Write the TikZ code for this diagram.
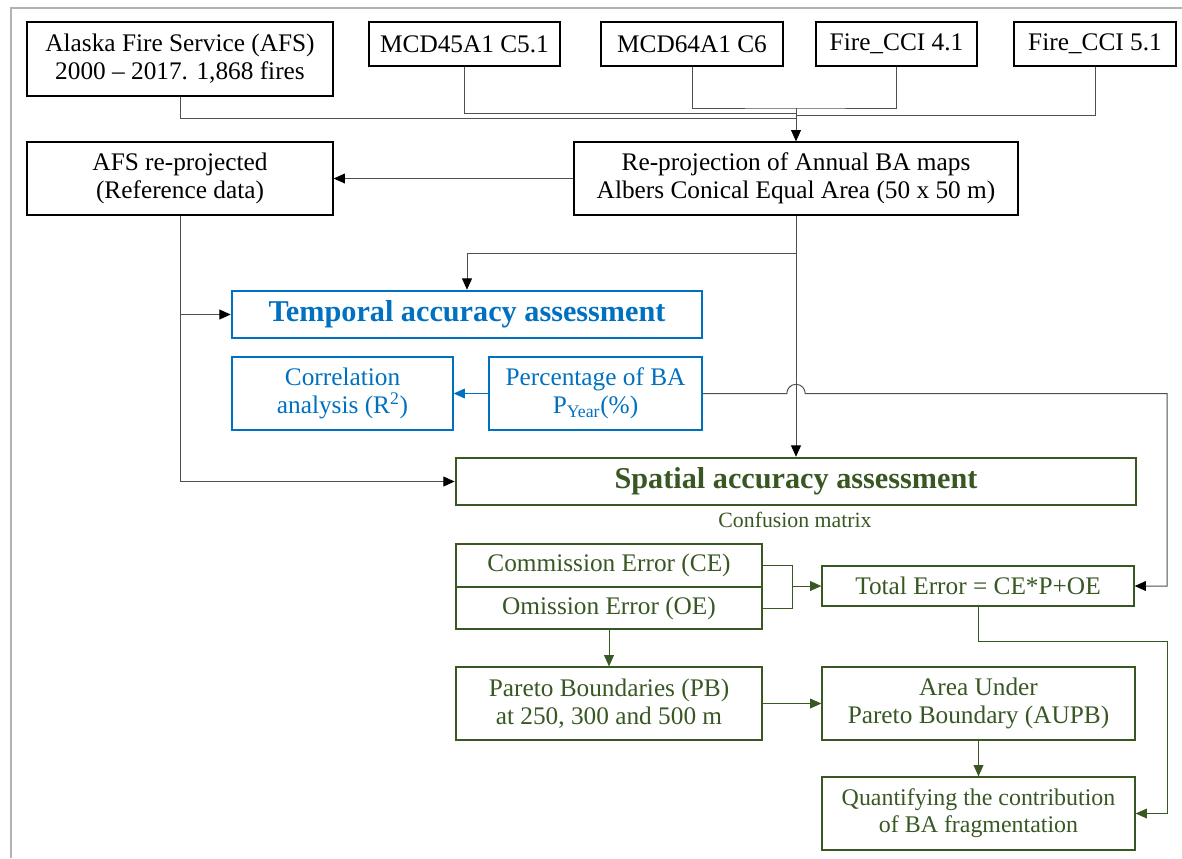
\documentclass[tikz,border=0pt]{standalone}
\usepackage{fontspec}
\setmainfont{Liberation Serif}
\usetikzlibrary{arrows.meta}
\definecolor{tempblue}{RGB}{0,112,192}
\definecolor{spatgreen}{RGB}{56,87,35}
\definecolor{linegray}{RGB}{80,80,80}

\begin{document}
\begin{tikzpicture}[
    x=0.025cm, y=-0.025cm,
    every node/.style={align=center, inner sep=0pt, font=\fontsize{18}{20}\selectfont},
    box/.style={draw, line width=0.9pt},
    titlebox/.style={draw, line width=1.8pt, font=\fontsize{21.5}{22}\selectfont\bfseries},
    bluebox/.style={box, draw=tempblue, text=tempblue},
    greenbox/.style={box, draw=spatgreen, text=spatgreen},
    wire/.style={draw=linegray, line width=0.7pt},
    arrow/.style={wire, -{Triangle[length=8pt, width=7pt, color=black]}},
    gwire/.style={draw=spatgreen, line width=0.6pt},
    garrow/.style={gwire, -{Triangle[length=8pt, width=7pt]}}
  ]
  \useasboundingbox (0,0) rectangle (1182,858);
  \draw[black!30, line width=1.2pt] (1182,8) -- (11,8) -- (11,858);

  \node[box, minimum width=7.65cm, minimum height=1.85cm] (afs) at (180,59) {Alaska Fire Service (AFS)\\2000 -- 2017. 1,868 fires};
  \node[box, minimum width=4.775cm, minimum height=1.1cm] (modisA) at (464.5,44) {MCD45A1 C5.1};
  \node[box, minimum width=4.55cm, minimum height=1.1cm] (modisB) at (692,44) {MCD64A1 C6};
  \node[box, minimum width=4.025cm, minimum height=1.1cm] (cciA) at (896.5,44) {Fire\_CCI 4.1};
  \node[box, minimum width=4.05cm, minimum height=1.1cm] (cciB) at (1095,44) {Fire\_CCI 5.1};

  \node[box, minimum width=7.65cm, minimum height=1.825cm] (afsref) at (180,178.5) {AFS re-projected\\(Reference data)};
  \node[box, minimum width=11.1cm, minimum height=1.825cm] (reproj) at (796,178.5) {Re-projection of Annual BA maps\\Albers Conical Equal Area (50 x 50 m)};

  \node[titlebox, draw=tempblue, text=tempblue, minimum width=11.75cm, minimum height=1.175cm] (temporal) at (467,314.5) {Temporal accuracy assessment};
  \node[bluebox, minimum width=5.525cm, minimum height=1.825cm] (corr) at (342.5,393.5) {Correlation\\analysis (R\textsuperscript{2})};
  \node[bluebox, minimum width=5.325cm, minimum height=1.825cm] (perc) at (595.5,393.5) {Percentage of BA\\P\textsubscript{Year}(\%)};

  \node[titlebox, draw=spatgreen, text=spatgreen, minimum width=17cm, minimum height=1.175cm] (spatial) at (796,481.5) {Spatial accuracy assessment};
  \node[text=spatgreen, font=\fontsize{15.5}{16}\selectfont] (confmat) at (795,520) {Confusion matrix};
  \node[greenbox, minimum width=7.65cm, minimum height=1.075cm] (ce) at (609,565.5) {Commission Error (CE)};
  \node[greenbox, minimum width=7.65cm, minimum height=1.05cm] (oe) at (609,608) {Omission Error (OE)};
  \node[greenbox, minimum width=7.8cm, minimum height=1cm] (total) at (978,586) {Total Error = CE*P+OE};
  \node[greenbox, minimum width=7.65cm, minimum height=1.825cm] (pareto) at (609,703.5) {Pareto Boundaries (PB)\\at 250, 300 and 500 m};
  \node[greenbox, minimum width=7.825cm, minimum height=1.825cm] (aupb) at (978.5,703.5) {Area Under\\Pareto Boundary (AUPB)};
  \node[greenbox, minimum width=7.825cm, minimum height=1.825cm, font=\fontsize{17}{19}\selectfont] (quant) at (978.5,813.5) {Quantifying the contribution\\of BA fragmentation};

  \coordinate (hub) at (796,108);
  \coordinate (joinA) at (796,113);
  \coordinate (joinB) at (796,115);
  \coordinate (joinAFS) at (796,118);
  \draw[wire] (afs.south) |- (joinAFS);
  \draw[wire] (modisA.south) |- (joinA);
  \draw[wire] (modisB.south) |- (hub) -| (cciA.south);
  \draw[wire] (cciB.south) |- (joinB);
  \draw[arrow] (hub) -- (reproj.north);

  \draw[arrow] (reproj.west) -- (afsref.east);
  \coordinate (split) at (796,253);
  \draw[arrow] (split) -| (temporal.north);
  \draw[arrow] (reproj.south) -- (spatial.north);
  \draw[arrow] (afsref.south) |- (spatial.west);
  \draw[arrow] (afsref.south |- temporal.west) -- (temporal.west);
  \draw[wire, draw=tempblue, line width=0.5pt, -{Triangle[length=8pt, width=7pt]}] (perc.west) -- (corr.east);
  \coordinate (hop) at (perc.east -| reproj.south);
  \coordinate (turnP) at (1167,393.5);
  \draw[arrow] (perc.east) -- ([xshift=-0.23cm]hop) arc[start angle=180, end angle=0, radius=0.23cm] -- (turnP) |- (total.east);

  \coordinate (joinE) at (792,586);
  \draw[gwire] (ce.east) -| (joinE) |- (oe.east);
  \draw[garrow] (joinE) -- (total.west);
  \draw[garrow] (oe.south) -- (pareto.north);
  \draw[garrow] (pareto.east) -- (aupb.west);
  \draw[garrow] (aupb.south) -- (quant.north);
  \coordinate (turnQ) at (1167,641);
  \draw[garrow] (total.south) |- (turnQ) |- (quant.east);
\end{tikzpicture}
\end{document}
